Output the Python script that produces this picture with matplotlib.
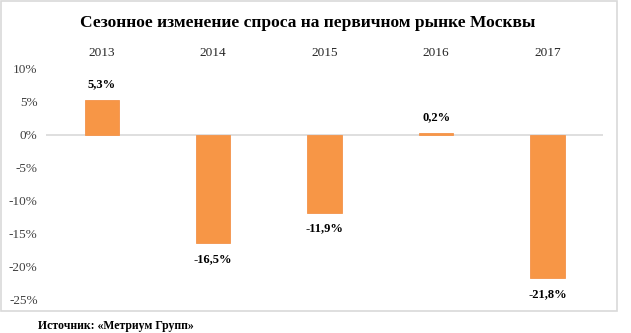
import matplotlib.pyplot as plt
from matplotlib.patches import Rectangle

# seasonal demand change, primary market, Moscow
years = ["2013", "2014", "2015", "2016", "2017"]
change = [5.3, -16.5, -11.9, 0.2, -21.8]
yticks = [10, 5, 0, -5, -10, -15, -20, -25]

plt.rcParams['font.family'] = ['Liberation Serif', 'DejaVu Serif']

fig = plt.figure(figsize=(6.31, 3.33), dpi=100)

# outer frame of the chart block
fig.patches.append(Rectangle((0.002, 0.066), 0.976, 0.930, transform=fig.transFigure,
                             fill=False, edgecolor="#d9d9d9", linewidth=1.2))

ax = fig.add_axes([0.073, 0.102, 0.883, 0.691])
x = list(range(len(years)))
ax.bar(x, change, width=0.31, color="#f79646", edgecolor="#f4934a", linewidth=0.6, zorder=2)

ax.set_xlim(-0.5, len(years) - 0.5)
ax.set_ylim(-25, 10)
ax.set_yticks(yticks)
ax.set_yticklabels([f"{t}%" for t in yticks], fontsize=9.5, color="#404040")
ax.tick_params(axis="y", length=0, pad=6)

ax.xaxis.tick_top()
ax.set_xticks(x)
ax.set_xticklabels(years, fontsize=9.5, color="#262626")
ax.tick_params(axis="x", length=0, pad=7)

for s in ax.spines.values():
    s.set_visible(False)
ax.axhline(0, color="#d9d9d9", linewidth=1.2, zorder=1)

for xi, v in zip(x, change):
    label = f"{v:.1f}%".replace(".", ",")
    if v >= 0:
        ax.annotate(label, (xi, v), xytext=(0, 7), textcoords="offset points",
                    ha="center", va="bottom", fontsize=9, fontweight="bold")
    else:
        ax.annotate(label, (xi, v), xytext=(0, -7), textcoords="offset points",
                    ha="center", va="top", fontsize=9, fontweight="bold")

fig.text(0.487, 0.93, "Сезонное изменение спроса на первичном рынке Москвы",
         ha="center", va="center", fontsize=12.5, fontweight="bold")
fig.text(0.06, 0.022, "Источник: «Метриум Групп»", ha="left", va="center",
         fontsize=8.5, fontweight="bold")

fig.savefig("out.png", dpi=100)
